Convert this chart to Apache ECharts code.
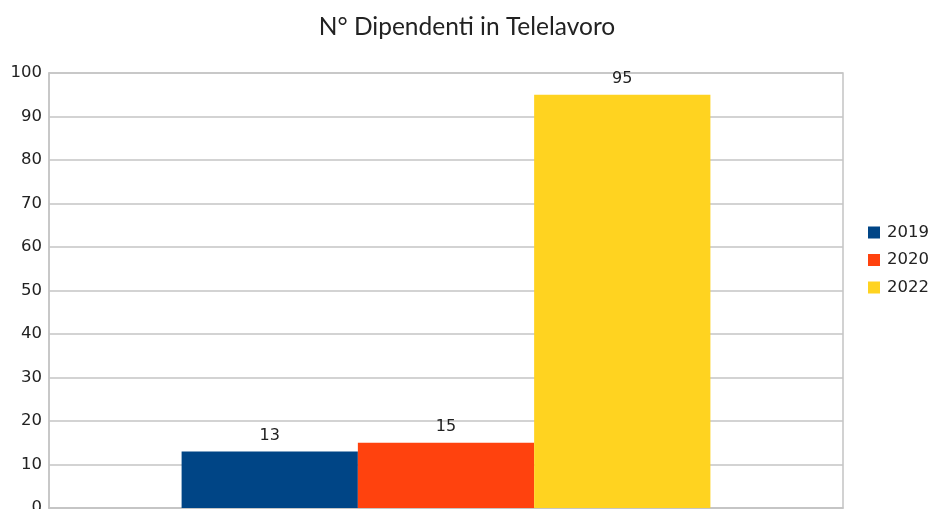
<!DOCTYPE html>
<html>
<head>
<meta charset="utf-8">
<script src="https://cdn.jsdelivr.net/npm/echarts@6/dist/echarts.min.js"></script>
<style>
  html, body { margin: 0; padding: 0; background: #fff; }
  #chart { width: 934px; height: 509px; }
</style>
</head>
<body>
<div id="chart"></div>
<script>
// dati
var categorie = ['Telelavoro'];
var anni = ['2019', '2020', '2022'];
var valori2019 = [13];
var valori2020 = [15];
var valori2022 = [95];
var colori = ['#004586', '#ff420e', '#ffd320'];

var serieValori = [valori2019, valori2020, valori2022];

var myChart = echarts.init(document.getElementById('chart'));

var series = anni.map(function (anno, i) {
  return {
    name: anno,
    type: 'bar',
    barGap: 0,
    barCategoryGap: '33.4%',
    data: serieValori[i],
    itemStyle: { color: colori[i] },
    label: {
      show: true,
      position: 'top',
      distance: 8,
      color: '#222',
      fontFamily: 'DejaVu Sans',
      fontSize: 16
    }
  };
});

myChart.setOption({
  animation: false,
  title: {
    text: 'N° Dipendenti in Telelavoro',
    left: 'center',
    top: 10,
    textStyle: {
      color: '#222',
      fontFamily: 'Lato',
      fontWeight: 'normal',
      fontSize: 24.5
    }
  },
  legend: {
    orient: 'vertical',
    left: 863,
    top: 219,
    itemWidth: 12,
    itemHeight: 12,
    itemGap: 10.5,
    icon: 'rect',
    data: anni,
    textStyle: {
      color: '#222',
      fontFamily: 'DejaVu Sans',
      fontSize: 16.5,
      lineHeight: 16,
      padding: [0, 0, 0, 2]
    }
  },
  grid: {
    left: 49,
    right: 91,
    top: 73,
    bottom: 1,
    outerBoundsMode: 'none',
    show: true,
    borderColor: '#c4c4c4',
    borderWidth: 1.5
  },
  xAxis: {
    type: 'category',
    data: categorie,
    axisLabel: { show: false },
    axisTick: { show: false },
    axisLine: { lineStyle: { color: '#c4c4c4', width: 1.5 } }
  },
  yAxis: {
    type: 'value',
    min: 0,
    max: 100,
    interval: 10,
    axisLine: { show: true, lineStyle: { color: '#c4c4c4', width: 1.5 } },
    axisTick: { show: false },
    axisLabel: {
      color: '#222',
      fontFamily: 'DejaVu Sans',
      fontSize: 16.5,
      margin: 7
    },
    splitLine: { lineStyle: { color: '#c4c4c4', width: 1.5 } }
  },
  series: series
});
</script>
</body>
</html>
